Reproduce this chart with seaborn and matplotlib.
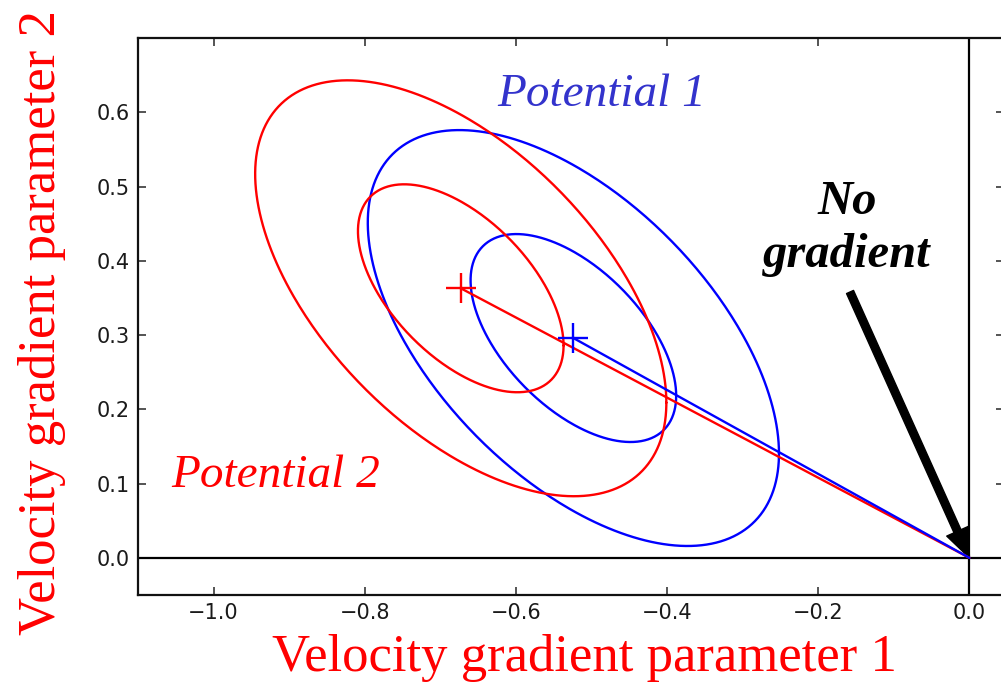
import numpy as np
import matplotlib
matplotlib.use("Agg")
import matplotlib.pyplot as plt
import seaborn as sns

# Best-fit velocity gradient parameters for the two potentials
populations = ["Potential 1", "Potential 2"]
center_x = [-0.524, -0.673]
center_y = [0.296, 0.363]
sigma_x = [0.136, 0.136]
sigma_y = [0.140, 0.140]
rho = [-0.555, -0.550]
line_colors = ["#0000ff", "#ff0000"]
label_colors = ["#3333cc", "#ff0000"]
sigma_levels = [1, 2]

x_ticks = [-1.0, -0.8, -0.6, -0.4, -0.2, 0.0]
y_ticks = [0.0, 0.1, 0.2, 0.3, 0.4, 0.5, 0.6]

sns.set_style("ticks", {
    "xtick.direction": "in",
    "ytick.direction": "in",
    "axes.edgecolor": "#111111",
})
plt.rcParams["font.family"] = ["DejaVu Sans"]

fig = plt.figure(figsize=(10.01, 6.83), dpi=100)
ax = fig.add_axes([138 / 1001, 88 / 683, (1004 - 138) / 1001, 557 / 683])
ax.set_xlim(-1.1, 0.0457)
ax.set_ylim(-0.05, 0.70)

# reference axes through the origin
ax.axhline(0, color="black", lw=1.6, zorder=1)
ax.axvline(0, color="black", lw=1.6, zorder=1)

t = np.linspace(0, 2 * np.pi, 400)
circle = np.vstack([np.cos(t), np.sin(t)])
for i in range(len(populations)):
    cov = np.array([[sigma_x[i] ** 2, rho[i] * sigma_x[i] * sigma_y[i]],
                    [rho[i] * sigma_x[i] * sigma_y[i], sigma_y[i] ** 2]])
    chol = np.linalg.cholesky(cov)
    for k in sigma_levels:
        pts = k * chol @ circle
        sns.lineplot(x=center_x[i] + pts[0], y=center_y[i] + pts[1], sort=False,
                     estimator=None, color=line_colors[i], lw=1.7, ax=ax, zorder=3)

# lines from each best fit to the no-gradient point
for i in [1, 0]:
    sns.lineplot(x=[center_x[i], 0.0], y=[center_y[i], 0.0], sort=False,
                 estimator=None, color=line_colors[i], lw=1.7, ax=ax, zorder=4)
    ax.plot(center_x[i], center_y[i], marker="+", ms=22, mew=1.7,
            color=line_colors[i], zorder=5)

ax.set_xticks(x_ticks)
ax.set_yticks(y_ticks)
ax.set_xticklabels(["\u22121.0", "\u22120.8", "\u22120.6", "\u22120.4", "\u22120.2", "0.0"])
ax.set_yticklabels([f"{v:.1f}" for v in y_ticks])
ax.tick_params(axis="both", which="both", direction="in", length=6, width=1.1,
               top=True, right=True, labelsize=15, labelcolor="#1a1a1a")
ax.tick_params(axis="y", pad=6)
ax.tick_params(axis="x", pad=6)
for sp in ax.spines.values():
    sp.set_linewidth(1.6)
    sp.set_color("#111111")

serif = ["Liberation Serif", "DejaVu Serif"]
ax.text(-0.486, 0.608, populations[0], color=label_colors[0], fontsize=34,
        style="italic", family=serif, ha="center", va="baseline")
ax.text(-0.918, 0.096, populations[1], color=label_colors[1], fontsize=34,
        style="italic", family=serif, ha="center", va="baseline")

ax.text(-0.162, 0.392, "No\ngradient", ha="center", va="baseline", fontsize=35,
        style="italic", weight="bold", family=serif, color="black",
        linespacing=1.25, multialignment="center")
ax.annotate("", xy=(0.0, 0.0), xytext=(-0.158, 0.358), textcoords="data",
            arrowprops=dict(facecolor="black", edgecolor="black", width=5.5,
                            headwidth=17, headlength=21, shrink=0))

ax.set_xlabel("Velocity gradient parameter 1", family=serif, fontsize=38,
              color="#ff0000")
ax.xaxis.set_label_coords((584.5 - 138) / 866, -0.07, transform=ax.transAxes)
ax.xaxis.label.set_va("top")
ax.set_ylabel("Velocity gradient parameter 2", family=serif, fontsize=38,
              color="#ff0000")
ax.yaxis.set_label_coords((66 - 138) / 866, (683 - 323 - 88) / 557,
                          transform=ax.transAxes)

fig.savefig("out.png", dpi=100, facecolor="white")
